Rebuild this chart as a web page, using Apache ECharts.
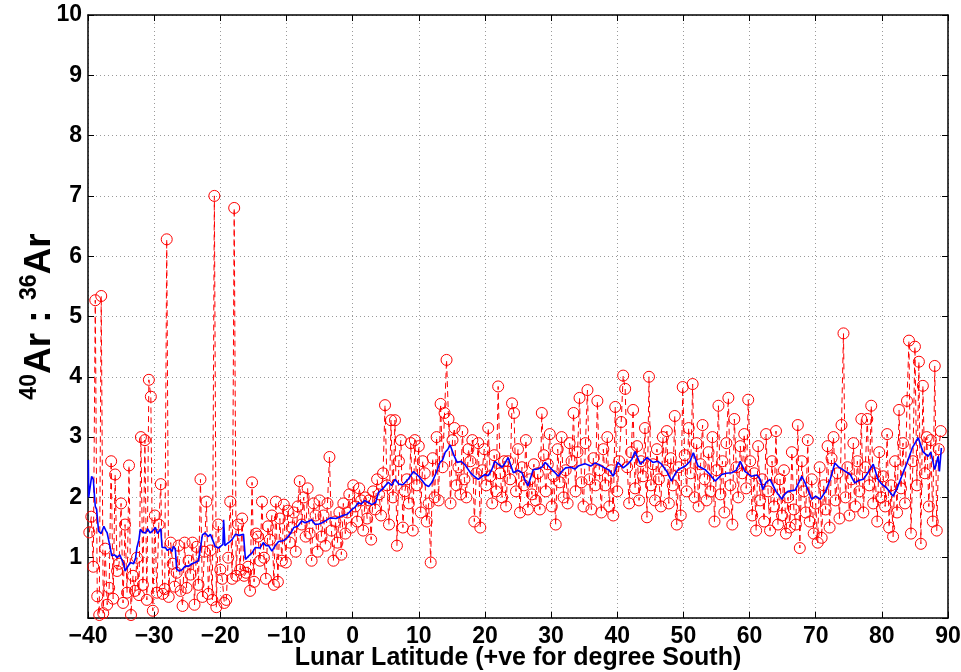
<!DOCTYPE html>
<html>
<head>
<meta charset="utf-8">
<script src="https://cdn.jsdelivr.net/npm/echarts@6/dist/echarts.min.js"></script>
<style>
  html, body { margin: 0; padding: 0; background: #ffffff; }
  #chart { width: 961px; height: 672px; }
</style>
</head>
<body>
<div id="chart"></div>
<script>
// Individual measurements: latitude (deg, +ve South) and 40Ar/36Ar ratio
const latitude = [
  -39.8,-39.5,-39.2,-38.9,-38.6,-38.3,-38.0,-37.7,-37.4,-37.1,
  -36.8,-36.5,-36.2,-35.9,-35.6,-35.3,-35.0,-34.7,-34.4,-34.1,
  -33.8,-33.5,-33.2,-32.9,-32.6,-32.3,-32.0,-31.7,-31.4,-31.1,
  -30.8,-30.5,-30.2,-29.9,-29.6,-29.3,-29.0,-28.7,-28.4,-28.1,
  -27.8,-27.5,-27.2,-26.9,-26.6,-26.3,-26.0,-25.7,-25.4,-25.1,
  -24.8,-24.5,-24.2,-23.9,-23.6,-23.3,-23.0,-22.7,-22.4,-22.1,
  -21.8,-21.5,-21.2,-20.9,-20.6,-20.3,-20.0,-19.7,-19.4,-19.1,
  -18.8,-18.5,-18.2,-17.9,-17.6,-17.3,-17.0,-16.7,-16.4,-16.1,
  -15.8,-15.5,-15.2,-14.9,-14.6,-14.3,-14.0,-13.7,-13.4,-13.1,
  -12.8,-12.5,-12.2,-11.9,-11.6,-11.3,-11.0,-10.7,-10.4,-10.1,
  -9.8,-9.5,-9.2,-8.9,-8.6,-8.3,-8.0,-7.7,-7.4,-7.1,
  -6.8,-6.5,-6.2,-5.9,-5.6,-5.3,-5.0,-4.7,-4.4,-4.1,
  -3.8,-3.5,-3.2,-2.9,-2.6,-2.3,-2.0,-1.7,-1.4,-1.1,
  -0.8,-0.5,-0.2,0.1,0.4,0.7,1.0,1.3,1.6,1.9,
  2.2,2.5,2.8,3.1,3.4,3.7,4.0,4.3,4.6,4.9,
  5.2,5.5,5.8,6.1,6.4,6.7,7.0,7.3,7.6,7.9,
  8.2,8.5,8.8,9.1,9.4,9.7,10.0,10.3,10.6,10.9,
  11.2,11.5,11.8,12.1,12.4,12.7,13.0,13.3,13.6,13.9,
  14.2,14.5,14.8,15.1,15.4,15.7,16.0,16.3,16.6,16.9,
  17.2,17.5,17.8,18.1,18.4,18.7,19.0,19.3,19.6,19.9,
  20.2,20.5,20.8,21.1,21.4,21.7,22.0,22.3,22.6,22.9,
  23.2,23.5,23.8,24.1,24.4,24.7,25.0,25.3,25.6,25.9,
  26.2,26.5,26.8,27.1,27.4,27.7,28.0,28.3,28.6,28.9,
  29.2,29.5,29.8,30.1,30.4,30.7,31.0,31.3,31.6,31.9,
  32.2,32.5,32.8,33.1,33.4,33.7,34.0,34.3,34.6,34.9,
  35.2,35.5,35.8,36.1,36.4,36.7,37.0,37.3,37.6,37.9,
  38.2,38.5,38.8,39.1,39.4,39.7,40.0,40.3,40.6,40.9,
  41.2,41.5,41.8,42.1,42.4,42.7,43.0,43.3,43.6,43.9,
  44.2,44.5,44.8,45.1,45.4,45.7,46.0,46.3,46.6,46.9,
  47.2,47.5,47.8,48.1,48.4,48.7,49.0,49.3,49.6,49.9,
  50.2,50.5,50.8,51.1,51.4,51.7,52.0,52.3,52.6,52.9,
  53.2,53.5,53.8,54.1,54.4,54.7,55.0,55.3,55.6,55.9,
  56.2,56.5,56.8,57.1,57.4,57.7,58.0,58.3,58.6,58.9,
  59.2,59.5,59.8,60.1,60.4,60.7,61.0,61.3,61.6,61.9,
  62.2,62.5,62.8,63.1,63.4,63.7,64.0,64.3,64.6,64.9,
  65.2,65.5,65.8,66.1,66.4,66.7,67.0,67.3,67.6,67.9,
  68.2,68.5,68.8,69.1,69.4,69.7,70.0,70.3,70.6,70.9,
  71.2,71.5,71.8,72.1,72.4,72.7,73.0,73.3,73.6,73.9,
  74.2,74.5,74.8,75.1,75.4,75.7,76.0,76.3,76.6,76.9,
  77.2,77.5,77.8,78.1,78.4,78.7,79.0,79.3,79.6,79.9,
  80.2,80.5,80.8,81.1,81.4,81.7,82.0,82.3,82.6,82.9,
  83.2,83.5,83.8,84.1,84.4,84.7,85.0,85.3,85.6,85.9,
  86.2,86.5,86.8,87.1,87.4,87.7,88.0,88.3,88.6,88.9
];
const arRatio = [
  1.42,1.68,0.85,5.27,0.36,0.05,5.34,0.08,1.15,0.22,
  0.50,2.60,0.32,2.38,0.78,0.90,1.90,0.25,1.55,0.42,
  2.53,0.05,0.70,0.45,1.00,0.38,3.00,0.55,2.95,0.30,
  3.95,3.67,0.12,1.70,0.42,1.55,2.22,0.40,0.48,6.28,
  0.35,1.25,0.90,0.52,0.75,1.20,0.45,0.20,1.25,0.50,
  0.95,0.72,1.25,0.22,1.18,0.55,2.30,0.35,1.10,1.93,
  0.40,1.12,0.30,7.00,0.18,1.55,0.80,0.65,0.25,0.30,
  1.00,1.93,0.65,6.80,0.70,1.55,0.80,1.65,0.70,0.75,
  0.85,0.45,2.25,0.60,1.40,1.35,0.95,1.93,1.00,0.65,
  1.52,1.30,1.70,0.55,1.93,0.60,1.65,0.95,1.88,0.92,
  1.78,1.25,1.50,1.75,1.10,1.85,2.27,1.55,2.00,1.35,
  2.15,1.40,0.95,1.90,1.70,1.10,1.95,1.35,1.70,1.20,
  1.90,2.67,1.45,0.95,1.60,1.25,1.75,1.05,1.90,1.40,
  1.75,2.05,1.50,2.20,1.85,1.60,2.15,1.95,1.45,2.00,
  1.65,1.95,1.30,2.10,1.80,2.30,2.05,1.70,2.40,3.53,
  2.20,1.55,3.28,2.00,3.28,1.20,2.60,2.95,1.50,2.10,
  2.30,1.90,2.90,1.45,2.95,2.20,2.85,1.75,2.60,2.40,
  1.60,1.90,0.92,2.65,2.00,3.00,1.95,3.55,2.50,3.40,
  4.28,3.30,1.90,2.95,3.15,2.20,2.50,2.05,3.10,2.30,
  2.00,2.80,2.60,2.95,1.60,2.40,2.90,1.50,2.45,2.80,
  2.20,3.15,2.35,1.90,2.70,2.10,3.84,2.40,2.00,2.60,
  1.85,2.60,2.30,3.56,3.40,2.10,2.80,1.75,2.50,2.20,
  2.95,1.80,2.30,2.05,2.55,1.95,2.40,1.80,3.40,2.70,
  2.10,2.55,3.05,1.85,2.35,1.55,2.80,2.25,3.00,2.00,
  2.45,1.90,2.90,2.60,3.40,2.10,2.75,3.65,2.25,1.85,
  2.90,3.78,2.30,1.80,2.65,2.20,3.60,2.45,1.75,2.80,
  2.20,3.00,1.85,2.45,1.70,3.50,2.10,2.60,3.25,4.02,
  3.80,2.50,1.90,2.75,3.45,2.15,2.85,1.95,2.60,2.35,
  3.15,1.67,4.00,2.20,2.55,1.95,2.80,2.30,1.85,3.00,
  2.45,3.10,1.90,2.65,2.20,3.35,1.55,2.50,1.70,3.83,
  2.70,2.10,3.15,2.40,3.88,2.00,2.90,1.85,2.55,3.20,
  2.30,1.95,2.75,2.10,3.00,1.60,2.45,3.52,2.05,2.60,
  1.75,2.90,3.65,2.20,1.55,3.30,2.50,2.00,2.85,2.40,
  3.05,2.15,3.62,2.60,1.70,2.40,1.45,2.85,1.95,2.30,
  1.60,3.05,2.10,1.45,2.60,1.85,3.10,1.55,2.30,1.70,
  2.45,1.40,2.00,1.50,2.75,1.80,1.55,3.20,1.16,2.60,
  2.10,1.75,2.95,1.60,2.30,1.40,1.90,1.25,2.50,1.33,
  2.20,1.80,2.85,1.50,2.65,3.00,1.95,2.40,1.65,3.20,
  4.72,2.00,2.50,1.70,2.30,2.90,1.85,2.60,2.10,3.30,
  1.75,2.50,3.30,2.20,3.52,1.90,2.40,1.60,2.75,2.00,
  2.35,1.85,3.05,1.50,2.20,1.35,2.60,1.75,3.45,2.15,
  2.90,1.90,3.60,4.60,1.40,2.60,4.50,2.20,4.25,1.23,
  3.85,2.40,3.00,1.85,2.95,1.60,4.18,1.45,2.80,3.10
];

// Running mean of the ratio
const meanLatitude = [
  -39.95,-39.9,-39.7,-39.45,-39.2,-38.9,-38.7,-38.4,-38.0,-37.6,-37.3,-37.1,
  -36.8,-36.6,-36.4,-36.0,-35.6,-35.2,-34.9,-34.6,-34.4,-34.0,-33.6,-33.1,
  -32.8,-32.6,-32.3,-32.1,-31.7,-31.3,-31.0,-30.6,-30.2,-29.8,-29.5,-29.3,
  -29.0,-28.8,-28.3,-28.0,-27.6,-27.3,-27.1,-26.8,-26.6,-26.2,-25.8,-25.3,
  -24.8,-24.3,-23.8,-23.3,-23.0,-22.7,-22.3,-21.8,-21.5,-21.0,-20.8,-20.3,
  -20.0,-19.6,-19.5,-19.3,-18.9,-18.5,-18.1,-17.7,-17.1,-16.5,-16.2,-15.7,
  -15.2,-14.7,-14.0,-13.5,-13.1,-12.7,-12.2,-11.7,-11.2,-10.5,-9.9,-9.4,
  -8.9,-8.3,-7.7,-7.2,-6.7,-6.2,-5.65,-5.1,-4.6,-4.0,-3.4,-2.5,-1.5,-0.8,
  -0.1,0.4,0.85,1.3,1.8,2.3,2.9,3.5,3.9,4.6,5.4,5.9,6.4,7.0,7.6,8.4,9.2,
  10.0,10.5,11.0,11.5,12.0,12.6,13.2,13.6,14.0,14.4,14.75,15.3,15.8,16.4,
  17.0,17.8,18.4,19.0,19.6,20.0,20.5,21.0,21.5,22.0,22.6,23.1,23.5,24.3,
  25.0,25.6,26.0,26.5,27.3,28.0,28.6,29.1,29.8,30.5,31.1,31.6,32.2,33.0,
  33.6,34.1,35.1,36.0,36.6,37.1,38.1,38.8,39.4,40.1,40.9,41.6,42.2,42.7,
  43.5,44.5,45.4,46.1,46.7,47.5,48.2,48.7,49.2,50.3,51.0,51.5,52.2,53.3,
  54.0,54.8,55.8,56.5,57.3,58.0,58.6,59.3,60.3,61.1,61.6,62.0,62.5,63.1,
  64.0,64.9,65.3,65.8,66.9,67.9,68.4,69.4,70.0,70.7,71.5,72.2,72.9,73.5,
  74.1,75.2,75.9,76.5,77.2,77.9,78.7,79.4,80.0,80.7,81.7,82.3,83.0,83.8,
  84.6,85.5,86.2,87.0,87.4,88.0,88.5,88.7,89.0
];
const meanRatio = [
  2.62,2.00,2.00,2.35,2.30,1.85,1.80,1.44,1.40,1.52,1.45,1.41,
  1.25,1.28,1.03,1.05,1.00,1.05,0.97,0.90,0.78,0.85,0.92,0.90,
  1.00,1.17,1.30,1.47,1.42,1.41,1.48,1.41,1.45,1.50,1.40,1.41,
  1.48,1.17,1.17,1.12,1.15,1.10,1.19,1.15,0.81,0.78,0.80,0.86,
  0.86,0.90,0.92,0.95,0.94,1.38,1.41,1.35,1.39,1.25,1.19,1.16,
  1.19,1.22,1.63,1.20,1.24,1.27,1.32,1.39,1.37,1.39,0.97,1.03,
  1.08,1.17,1.16,1.25,1.20,1.20,1.11,1.20,1.27,1.28,1.33,1.40,
  1.50,1.52,1.61,1.58,1.60,1.63,1.55,1.56,1.58,1.62,1.66,1.65,1.70,1.72,
  1.80,1.84,1.91,1.89,1.95,1.92,1.88,1.92,2.08,2.15,2.25,2.20,2.30,2.22,2.21,2.30,2.43,
  2.35,2.28,2.21,2.18,2.25,2.40,2.58,2.62,2.75,2.80,2.87,2.70,2.58,2.60,
  2.54,2.41,2.35,2.30,2.35,2.38,2.36,2.45,2.60,2.55,2.50,2.58,2.66,2.41,
  2.45,2.41,2.30,2.19,2.46,2.47,2.50,2.58,2.50,2.42,2.35,2.43,2.49,2.50,
  2.47,2.52,2.56,2.52,2.57,2.55,2.49,2.45,2.35,2.58,2.49,2.55,2.63,2.76,
  2.55,2.66,2.58,2.60,2.55,2.43,2.27,2.38,2.46,2.52,2.60,2.74,2.52,2.46,
  2.38,2.27,2.38,2.40,2.41,2.45,2.60,2.43,2.35,2.37,2.30,2.13,2.25,2.30,
  2.10,1.97,2.05,2.10,2.12,2.35,2.24,1.97,2.02,1.97,2.10,2.30,2.57,2.50,
  2.46,2.38,2.24,2.28,2.30,2.41,2.55,2.30,2.22,2.16,2.02,2.15,2.35,2.57,
  2.82,2.99,2.76,2.68,2.75,2.46,2.68,2.43,2.82
];

const xTickValues = [-40, -30, -20, -10, 0, 10, 20, 30, 40, 50, 60, 70, 80, 90];
const yTickValues = [1, 2, 3, 4, 5, 6, 7, 8, 9, 10];

const FONT = '"Liberation Sans", Arial, Helvetica, sans-serif';

const pointData = latitude.map((lat, i) => [lat, arRatio[i]]);
const meanData = meanLatitude.map((lat, i) => [lat, meanRatio[i]]);

const tickLabel = (v) => (v < 0 ? '\u2212' + Math.abs(v) : String(v));

const chart = echarts.init(document.getElementById('chart'), null, { renderer: 'canvas' });

chart.setOption({
  animation: false,
  backgroundColor: '#ffffff',
  grid: { left: 88, right: 13, top: 15, bottom: 54, containLabel: false, outerBoundsMode: 'none' },
  xAxis: [
    {
      type: 'value',
      min: -40, max: 90, interval: 10,
      position: 'bottom',
      name: 'Lunar Latitude (+ve for degree South)',
      nameLocation: 'middle',
      nameGap: 28,
      nameMoveOverlap: false,
      nameTextStyle: { fontFamily: FONT, fontWeight: 'bold', fontSize: 25, color: '#000' },
      axisLine: { show: true, onZero: false, lineStyle: { color: '#000', width: 1.5 } },
      axisTick: { show: true, inside: true, length: 6, lineStyle: { color: '#000', width: 1 } },
      axisLabel: {
        margin: 7, fontFamily: FONT, fontWeight: 'bold', fontSize: 23, color: '#000',
        formatter: (v) => (xTickValues.includes(v) ? tickLabel(v) : '')
      },
      splitLine: { show: true, lineStyle: { color: '#9a9a9a', width: 1, type: [1, 3] } }
    },
    {
      type: 'value',
      min: -40, max: 90, interval: 10,
      position: 'top',
      axisLine: { show: true, onZero: false, lineStyle: { color: '#000', width: 1.5 } },
      axisTick: { show: true, inside: true, length: 6, lineStyle: { color: '#000', width: 1 } },
      axisLabel: { show: false },
      splitLine: { show: false }
    }
  ],
  yAxis: [
    {
      type: 'value',
      min: 0, max: 10, interval: 1,
      position: 'left',
      name: '{sup|40}{main|Ar : }{sup|36}{main|Ar}',
      nameLocation: 'middle',
      nameRotate: 90,
      nameGap: 30,
      nameMoveOverlap: false,
      nameTextStyle: {
        color: '#000',
        rich: {
          main: { fontFamily: FONT, fontWeight: 'bold', fontSize: 37, color: '#000', lineHeight: 40, verticalAlign: 'bottom' },
          sup: { fontFamily: FONT, fontWeight: 'bold', fontSize: 23, color: '#000', lineHeight: 23, verticalAlign: 'top' }
        }
      },
      axisLine: { show: true, onZero: false, lineStyle: { color: '#000', width: 1.5 } },
      axisTick: { show: true, inside: true, length: 6, lineStyle: { color: '#000', width: 1 } },
      axisLabel: {
        margin: 6, fontFamily: FONT, fontWeight: 'bold', fontSize: 23, color: '#000',
        formatter: (v) => (yTickValues.includes(v) ? String(v) : '')
      },
      splitLine: { show: true, lineStyle: { color: '#9a9a9a', width: 1, type: [1, 3] } }
    },
    {
      type: 'value',
      min: 0, max: 10, interval: 1,
      position: 'right',
      axisLine: { show: true, onZero: false, lineStyle: { color: '#000', width: 1.5 } },
      axisTick: { show: true, inside: true, length: 6, lineStyle: { color: '#000', width: 1 } },
      axisLabel: { show: false },
      splitLine: { show: false }
    }
  ],
  series: [
    {
      name: 'ratio',
      type: 'line',
      xAxisIndex: 0,
      yAxisIndex: 0,
      data: pointData,
      symbol: 'circle',
      symbolSize: 11,
      showAllSymbol: true,
      itemStyle: { color: 'rgba(0,0,0,0)', borderColor: '#ff0000', borderWidth: 1 },
      lineStyle: { color: '#ff0000', width: 1, type: [6, 4] },
      z: 2
    },
    {
      name: 'running mean',
      type: 'line',
      xAxisIndex: 0,
      yAxisIndex: 0,
      data: meanData,
      symbol: 'none',
      lineStyle: { color: '#0000ff', width: 1.6 },
      z: 3
    }
  ]
});
</script>
</body>
</html>
